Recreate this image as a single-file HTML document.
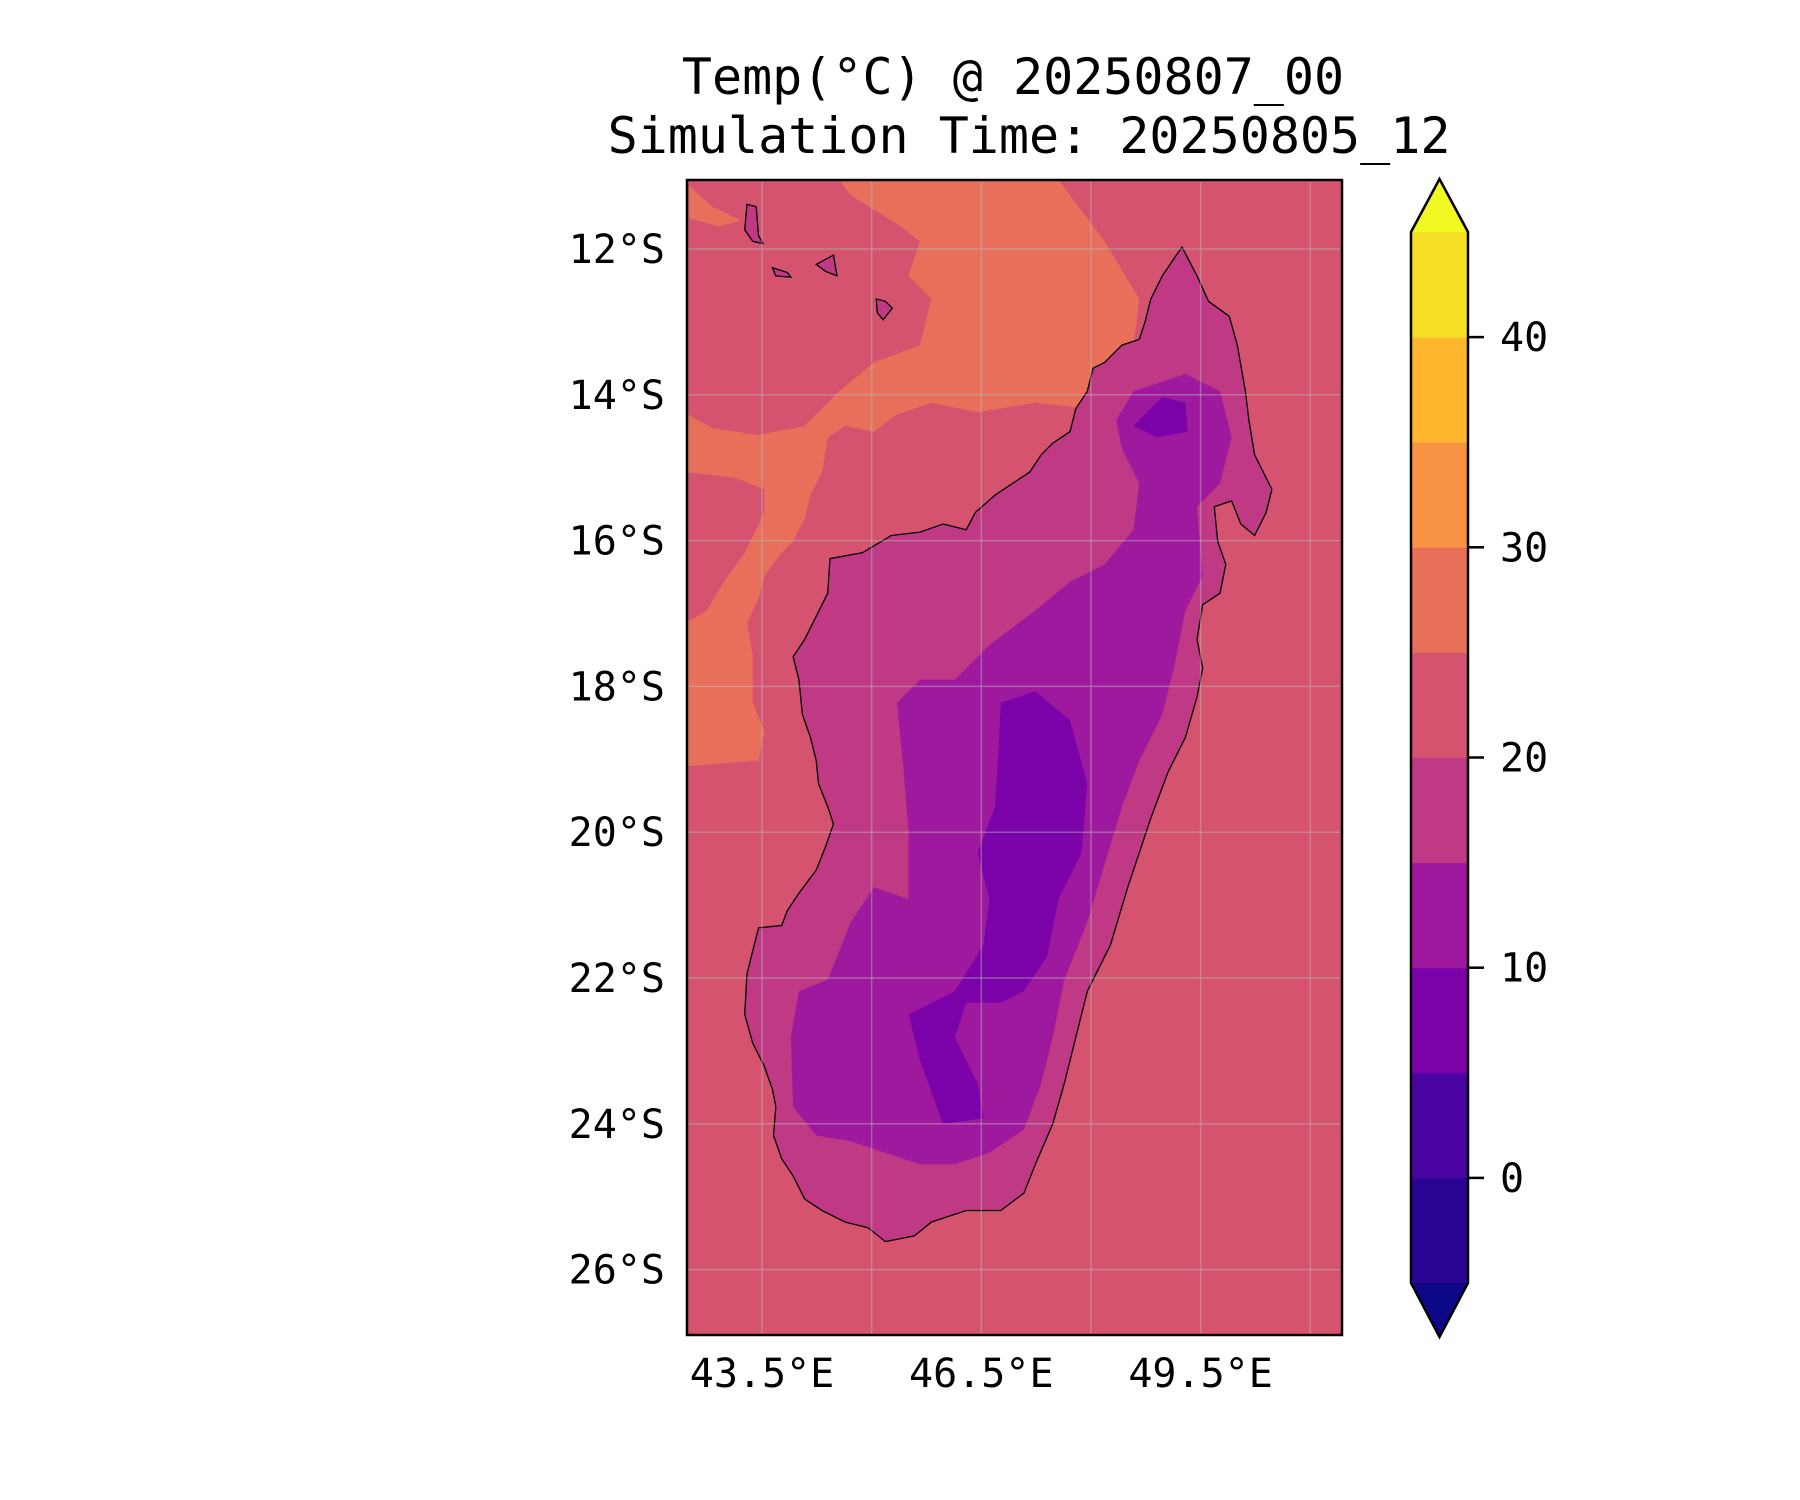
<!DOCTYPE html>
<html><head><meta charset="utf-8"><style>
html,body{margin:0;padding:0;background:#fff}
svg{display:block}
text{font-family:"DejaVu Sans Mono","Liberation Mono",monospace;fill:#000}
</style></head><body>
<svg id="fig" width="1800" height="1500" viewBox="0 0 1800 1500">
<text x="1013" y="94" font-size="50" text-anchor="middle">Temp(°C) @ 20250807_00</text>
<text x="1029" y="153" font-size="50" text-anchor="middle">Simulation Time: 20250805_12</text>
<defs><clipPath id="mapclip"><rect x="687" y="180" width="655" height="1155"/></clipPath></defs>
<g id="map" clip-path="url(#mapclip)"></g>
<rect x="687" y="180" width="655" height="1155" fill="none" stroke="#000" stroke-width="2.5"/>
<g id="ticks"></g>
<g id="cbar"></g>
</svg>
<script>
const levels=[-5,0,5,10,15,20,25,30,35,40,45];
const levelColors=["#2a0593","#4903a0","#7a02a8","#9e199d","#bf3984","#d5536f","#e8705b","#f79342","#fdb62e","#f5e026"];
const extendLow="#0d0887", extendHigh="#f0f921";
const cbarTicks=[0,10,20,30,40];
const lonTicks=[43.5,46.5,49.5];
const lonGrid=[43.5,45,46.5,48,49.5,51];
const latTicks=[12,14,16,18,20,22,24,26];
const NS="http://www.w3.org/2000/svg";
function el(t,a,p){const e=document.createElementNS(NS,t);for(const k in a)e.setAttribute(k,a[k]);p.appendChild(e);return e;}
const X=lon=>762+(lon-43.5)*73.1;
const Y=lat=>249+(lat-12)*72.9;
const R=(p)=>[(p[0]*1.1538-3),(p[1]*1.1538-1)];
function path(pts){return "M"+pts.map(p=>R(p).map(v=>v.toFixed(1)).join(",")).join("L")+"Z";}
const map=document.getElementById('map');
let r=el('rect',{x:687,y:180,width:655,height:1155,fill:levelColors[5]},map);

const warm=[[730,157],[920,157],[960,210],[990,260],[985,300],[960,330],[945,355],[900,350],[850,358],[810,350],[780,360],[760,375],[735,370],[720,380],[715,410],[705,430],[700,450],[690,470],[680,480],[665,500],[660,520],[650,540],[655,570],[655,610],[665,635],[660,660],[598,665],[598,540],[615,530],[630,505],[648,480],[665,445],[665,425],[640,415],[598,410],[598,360],[620,372],[660,378],[700,370],[730,340],[760,315],[800,300],[810,260],[790,240],[800,210],[780,195],[740,170]];
let w=el('path',{d:path(warm),fill:levelColors[6]},map);

let w2=el('path',{d:path([[600,162],[620,180],[645,192],[625,197],[600,190]]),fill:levelColors[6]},map);

const coast=[[1027,215],[1040,240],[1050,262],[1068,275],[1075,300],[1082,340],[1085,365],[1090,395],[1105,425],[1100,445],[1090,465],[1078,455],[1070,435],[1055,440],[1058,470],[1065,490],[1060,515],[1045,525],[1040,555],[1045,580],[1040,605],[1030,640],[1015,670],[1000,710],[990,740],[980,770],[965,820],[945,860],[935,900],[925,940],[915,975],[900,1010],[890,1035],[870,1050],[840,1050],[810,1060],[795,1072],[770,1077],[755,1065],[735,1060],[715,1050],[700,1040],[690,1020],[680,1005],[673,985],[675,960],[672,945],[665,925],[655,905],[648,880],[650,845],[655,825],[660,805],[680,803],[685,790],[695,775],[710,755],[718,735],[725,715],[720,700],[712,680],[710,660],[705,640],[698,620],[695,590],[690,570],[700,555],[710,535],[720,515],[722,485],[750,480],[775,465],[800,462],[820,455],[840,460],[848,445],[865,430],[880,420],[895,410],[905,395],[915,385],[930,375],[935,355],[945,340],[950,320],[960,315],[975,300],[990,295],[995,280],[1000,260],[1010,240],[1020,225]];
let c1=el('path',{d:path(coast),fill:levelColors[4]},map);

const cool=[[985,340],[1030,325],[1060,340],[1070,380],[1060,420],[1040,440],[1045,500],[1030,530],[1020,580],[1010,620],[990,660],[975,700],[960,750],[945,800],[925,850],[915,900],[905,940],[890,980],[860,1000],[830,1010],[800,1010],[770,1000],[740,990],[710,985],[690,960],[688,900],[695,860],[720,850],[740,800],[760,770],[790,780],[790,720],[785,660],[780,610],[800,590],[830,590],[860,560],[900,530],[930,505],[960,490],[985,460],[990,420],[975,390],[970,365]];
let c2=el('path',{d:path(cool),fill:levelColors[3]},map);

const cold=[[870,610],[900,600],[930,625],[945,680],[940,740],[920,780],[910,830],[890,860],[870,870],[840,870],[830,900],[850,940],[855,970],[820,975],[800,920],[790,880],[830,860],[855,820],[860,780],[850,740],[865,700],[868,650]];
let c3=el('path',{d:path(cold),fill:levelColors[2]},map);

let c4=el('path',{d:path([[985,370],[1010,345],[1030,350],[1032,375],[1005,380]]),fill:levelColors[2]},map);

let cl=el('path',{d:path(coast),fill:"none",stroke:"#000","stroke-width":1.3},map);

const isles=[[[650,178],[658,180],[660,205],[664,212],[655,210],[648,200]],[[672,233],[685,237],[688,241],[675,240]],[[710,230],[725,222],[728,240],[718,236]],[[762,260],[770,262],[776,268],[768,278],[763,272]]];
isles.forEach(p=>{let i=el('path',{d:path(p),fill:levelColors[4],stroke:"#000","stroke-width":1.3},map);
});
lonGrid.forEach(l=>{let g=el('line',{x1:X(l),x2:X(l),y1:180,y2:1335,stroke:"#bbb","stroke-opacity":0.45,"stroke-width":1.5},map);
});
latTicks.forEach(l=>{let g=el('line',{x1:687,x2:1342,y1:Y(l),y2:Y(l),stroke:"#bbb","stroke-opacity":0.45,"stroke-width":1.5},map);
});
const tk=document.getElementById('ticks');
latTicks.forEach(l=>{let t=el('text',{x:665,y:Y(l)+14,"font-size":40,"text-anchor":"end"},tk);t.textContent=l+"°S";
});
lonTicks.forEach(l=>{let t=el('text',{x:X(l),y:1387,"font-size":40,"text-anchor":"middle"},tk);t.textContent=l+"°E";
});
const cb=document.getElementById('cbar');
const cx0=1411,cx1=1468,cTop=232,cBot=1283;
const CY=v=>cBot-(v-levels[0])/(levels[levels.length-1]-levels[0])*(cBot-cTop);
for(let i=0;i<levelColors.length;i++){let s=el('rect',{x:cx0,y:CY(levels[i+1]),width:cx1-cx0,height:CY(levels[i])-CY(levels[i+1])+0.5,fill:levelColors[i]},cb);
}
let up=el('path',{d:`M${cx0},${cTop}L${(cx0+cx1)/2},179L${cx1},${cTop}Z`,fill:extendHigh},cb);

let dn=el('path',{d:`M${cx0},${cBot}L${(cx0+cx1)/2},1337L${cx1},${cBot}Z`,fill:extendLow},cb);

let ol=el('path',{d:`M${cx0},${cTop}L${(cx0+cx1)/2},179L${cx1},${cTop}L${cx1},${cBot}L${(cx0+cx1)/2},1337L${cx0},${cBot}Z`,fill:"none",stroke:"#000","stroke-width":2.5},cb);

cbarTicks.forEach(v=>{let m=el('line',{x1:cx1,x2:cx1+16,y1:CY(v),y2:CY(v),stroke:"#000","stroke-width":2.5},cb);

let t=el('text',{x:1500,y:CY(v)+14,"font-size":40},cb);t.textContent=v;
});
</script>
</body></html>
